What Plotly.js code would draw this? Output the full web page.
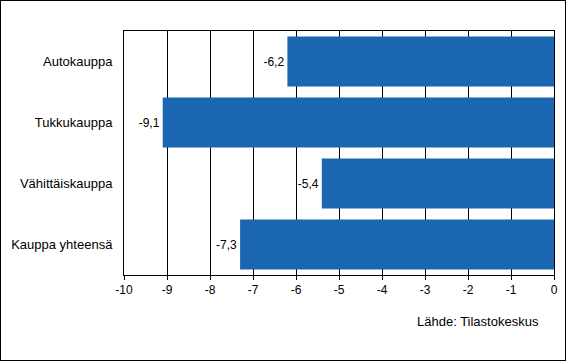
<!DOCTYPE html>
<html><head><meta charset="utf-8">
<script src="https://cdn.plot.ly/plotly-3.0.1.min.js"></script>
<style>body{margin:0;padding:0;background:#fff}#wrap{position:relative;width:566px;height:361px}
#frame{position:absolute;left:0;top:0;width:566px;height:361px;box-sizing:border-box;border:1px solid #000;pointer-events:none}</style>
</head><body><div id="wrap"><div id="chart" style="width:566px;height:361px"></div><div id="frame"></div></div>
<script>
const categories = ["Autokauppa", "Tukkukauppa", "Vähittäiskauppa", "Kauppa yhteensä"];
const values = [-6.2, -9.1, -5.4, -7.3];
const xTicks = [-10, -9, -8, -7, -6, -5, -4, -3, -2, -1, 0];
const sourceText = "Lähde: Tilastokeskus";

const trace = {
  type: 'bar', orientation: 'h',
  x: values, y: categories,
  marker: {color: '#1A66B0'},
  text: values.map(v => v.toFixed(1).replace('.', ',')),
  textposition: 'outside', cliponaxis: false,
  textfont: {family: 'Liberation Sans, Arial, sans-serif', size: 12, color: '#000'},
  hoverinfo: 'none'
};
const layout = {
  width: 566, height: 361,
  margin: {l: 124, r: 12, t: 31, b: 86},
  paper_bgcolor: '#fff', plot_bgcolor: '#fff',
  bargap: 0.18,
  separators: ',.',
  showlegend: false,
  font: {family: 'Liberation Sans, Arial, sans-serif', size: 12, color: '#000'},
  xaxis: {
    range: [-10, 0], tickvals: xTicks, ticktext: xTicks.map(String),
    showgrid: true, gridcolor: '#000', gridwidth: 1,
    zeroline: false, showline: true, linecolor: '#000', linewidth: 1, mirror: true,
    ticks: 'outside', ticklen: 4, tickcolor: '#000',
    tickfont: {size: 12}, fixedrange: true
  },
  yaxis: {
    type: 'category', categoryorder: 'array', categoryarray: categories,
    autorange: 'reversed',
    showline: true, linecolor: '#000', linewidth: 1, mirror: true,
    ticks: '', ticklabelstandoff: 8, showgrid: false,
    tickfont: {size: 13}, fixedrange: true
  },
  annotations: [{
    text: sourceText, xref: 'paper', yref: 'paper',
    x: 0.97, y: -0.19, xanchor: 'right', yanchor: 'middle',
    showarrow: false, font: {size: 13, color: '#000'}
  }]
};
Plotly.newPlot('chart', [trace], layout, {displayModeBar: false, staticPlot: true});
</script></body></html>
